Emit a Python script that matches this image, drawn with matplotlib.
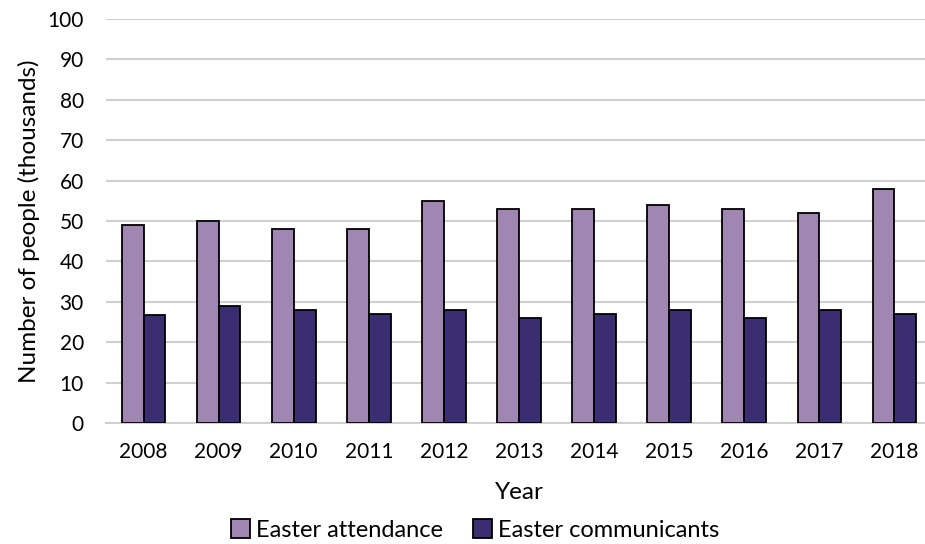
import matplotlib.pyplot as plt
import numpy as np

plt.rcParams['font.family'] = ['Lato', 'DejaVu Sans']

years = ['2008', '2009', '2010', '2011', '2012', '2013', '2014', '2015', '2016', '2017', '2018']
attendance = [49, 50, 48, 48, 55, 53, 53, 54, 53, 52, 58]
communicants = [26.7, 29, 28, 27, 28, 26, 27, 28, 26, 28, 27]

fig = plt.figure(figsize=(9.25, 5.44), dpi=100)
ax = fig.add_axes([106 / 925, 1 - 423 / 544, 826 / 925, 404 / 544])

x = np.arange(len(years))
w = 0.29
ax.bar(x - w / 2, attendance, width=w, color='#A087B2', edgecolor='black', linewidth=1.3,
       label='Easter attendance', zorder=3)
ax.bar(x + w / 2, communicants, width=w, color='#3A2E70', edgecolor='black', linewidth=1.3,
       label='Easter communicants', zorder=3)

ax.set_xlim(-0.5, len(years) - 0.5)
ax.set_ylim(0, 100)
ax.set_yticks(np.arange(0, 101, 10))
ax.set_xticks(x)
ax.set_xticklabels(years)
ax.grid(axis='y', color='#D0D0D0', linewidth=1.5, zorder=0)
for s in ['top', 'right', 'left']:
    ax.spines[s].set_visible(False)
ax.spines['bottom'].set_color('#D0D0D0')
ax.spines['bottom'].set_linewidth(1.5)
ax.tick_params(axis='both', length=0, labelsize=15, colors='black')
ax.tick_params(axis='y', pad=16)
ax.tick_params(axis='x', pad=14)

ax.set_xlabel('Year', fontsize=17.5, labelpad=14)
ax.set_ylabel('Number of people (thousands)', fontsize=17.5, labelpad=5)

ax.legend(loc='center', bbox_to_anchor=(0.447, -0.265), ncol=2, frameon=False,
          fontsize=17, handlelength=0.8, handleheight=0.8, handletextpad=0.25,
          columnspacing=1.3)

fig.savefig('out.png', dpi=100)
